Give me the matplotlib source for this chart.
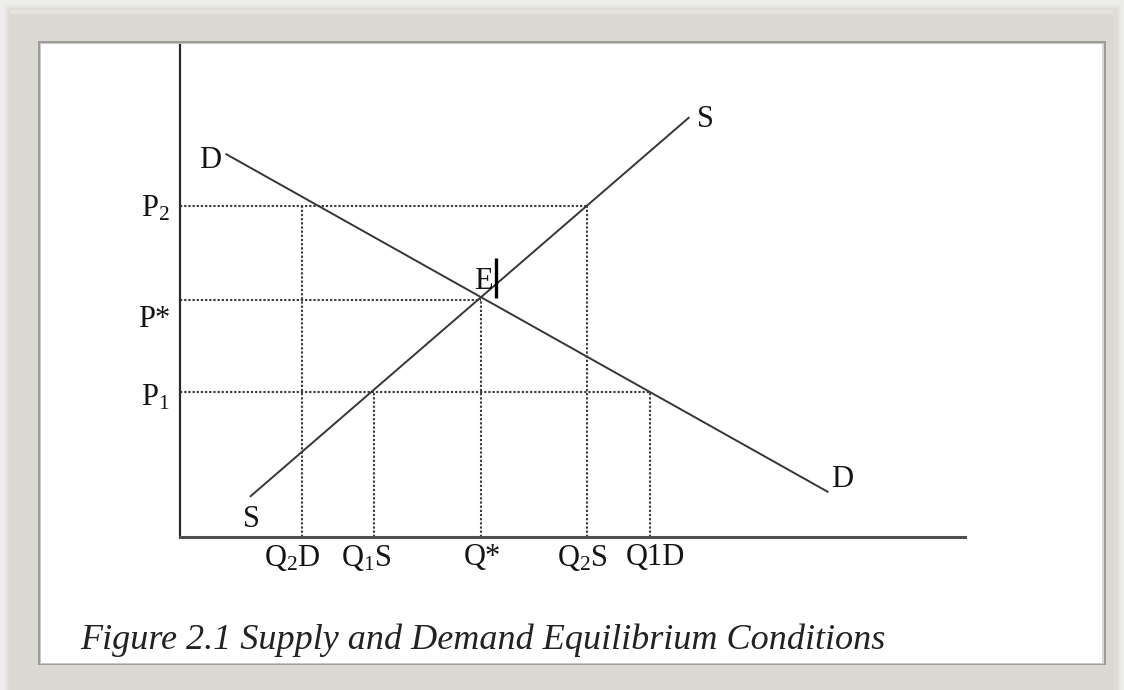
"""
Supply and demand equilibrium diagram (Figure 2.1)
"""

import matplotlib
matplotlib.use('Agg')
import matplotlib.pyplot as plt
from matplotlib.patches import Rectangle
from matplotlib.transforms import Affine2D

plt.rcParams.update({
    'font.family': ['Liberation Serif', 'DejaVu Serif'],
    'mathtext.fontset': 'custom',
    'mathtext.rm': 'Liberation Serif',
    'mathtext.it': 'Liberation Serif:italic',
    'mathtext.default': 'rm',
})

# price levels on the vertical axis
p_labels = ['P$_2$', 'P*', 'P$_1$']
p_values = [67.3, 48.2, 29.5]

# quantities on the horizontal axis
q_labels = ['Q$_2$D', 'Q$_1$S', 'Q*', 'Q$_2$S', 'Q1D']
q_values = [15.5, 24.7, 38.3, 51.8, 59.9]
q_to_price = [0, 2, 1, 0, 2]      # which price level each quantity belongs to
p_to_quantity = [3, 2, 4]         # furthest quantity reached at each price level

# demand and supply lines (end points)
demand_q = [5.9, 82.5]
demand_p = [77.8, 9.2]
supply_q = [9.0, 64.8]
supply_p = [8.3, 85.2]

equilibrium_q = q_values[2]
equilibrium_p = p_values[1]

LINE = '#363636'
DOT = '#404040'
TEXT = '#141414'

W, H = 1124, 690
fig = plt.figure(figsize=(W / 100, H / 100), dpi=100)

# ── frame ────────────────────────────────────────────
bg = fig.add_axes([0, 0, 1, 1])
bg.set_xlim(0, W)
bg.set_ylim(H, 0)
bg.axis('off')
bg.add_patch(Rectangle((0, 0), W, H, facecolor='#eeeeed', edgecolor='none'))
for i, c in enumerate(['#eaeae8', '#e4e3e0', '#dedcd6']):
    bg.add_patch(Rectangle((4 + 2 * i, 4 + 2 * i), W - 6 - 4 * i, H, facecolor=c, edgecolor='none'))
bg.add_patch(Rectangle((10, 10), 1103, 690, facecolor='#dad8d0', edgecolor='none'))
bg.add_patch(Rectangle((10, 10), 1103, 4, facecolor='#e4e2da', edgecolor='none'))
bg.add_patch(Rectangle((38, 41), 1068, 624, facecolor='#9c9c9a', edgecolor='none'))
bg.add_patch(Rectangle((40, 43), 1064, 621, facecolor='#c8c8c6', edgecolor='none'))
bg.add_patch(Rectangle((41, 44), 1062, 619, facecolor='white', edgecolor='none'))
bg.add_patch(Rectangle((1102, 44), 2, 619, facecolor='#d8d8d8', edgecolor='none'))

# ── diagram ──────────────────────────────────────────
ax = fig.add_axes([180 / W, 1 - 537 / H, 785 / W, 492 / H])
ax.set_xlim(0, 100)
ax.set_ylim(0, 100)
ax.patch.set_alpha(0)
for side in ['top', 'right']:
    ax.spines[side].set_visible(False)
ax.spines['left'].set_linewidth(1.6)
ax.spines['left'].set_color('#2a2a2a')
ax.spines['bottom'].set_linewidth(2.2)
ax.spines['bottom'].set_color('#505050')
ax.set_xticks([])
ax.set_yticks([])

dotted = dict(color=DOT, linewidth=1.5, linestyle=(0, (1.1, 0.9)), zorder=1)
for p, j in zip(p_values, p_to_quantity):
    ax.plot([0, q_values[j]], [p, p], **dotted)
for q, j in zip(q_values, q_to_price):
    ax.plot([q, q], [0, p_values[j]], **dotted)

ax.plot(demand_q, demand_p, color=LINE, linewidth=1.4, zorder=2)
ax.plot(supply_q, supply_p, color=LINE, linewidth=1.4, zorder=2)

fs = 22
lab = dict(fontsize=fs, color=TEXT, textcoords='offset pixels', ha='center', va='center')
ax.annotate('D', (demand_q[0], demand_p[0]), xytext=(-16, -6), **lab)
ax.annotate('D', (demand_q[1], demand_p[1]), xytext=(15, 12), **lab)
ax.annotate('S', (supply_q[1], supply_p[1]), xytext=(17, -2), **lab)
ax.annotate('S', (supply_q[0], supply_p[0]), xytext=(1, -23), **lab)

# equilibrium point with the marker bar beside the label
ax.annotate('E', (equilibrium_q, equilibrium_p), xytext=(3, 18), **lab)
ex, ey = ax.transData.transform((equilibrium_q, equilibrium_p))
bar_tr = Affine2D().translate(ex, ey)
ax.plot([15, 15], [2, 42], color='black', linewidth=2.4, transform=bar_tr,
        solid_capstyle='butt', clip_on=False)

# price labels left of the axis
p_offsets = [-3, -20, -6]
for lbl, p, dy in zip(p_labels, p_values, p_offsets):
    ax.annotate(lbl, (0, p), xytext=(-10, dy), textcoords='offset pixels',
                fontsize=fs, color=TEXT, ha='right', va='center', annotation_clip=False)

# quantity labels under the axis
q_offsets = [-9, -8, 2, -4, 5]
for lbl, q, dx in zip(q_labels, q_values, q_offsets):
    ax.annotate(lbl, (q, 0), xytext=(dx, -21), textcoords='offset pixels',
                fontsize=fs, color=TEXT, ha='center', va='center', annotation_clip=False)

fig.text(80 / W, 1 - 649 / H, 'Figure 2.1 Supply and Demand Equilibrium Conditions',
         fontsize=26, style='italic', color='#222222', ha='left', va='baseline')

fig.savefig('out.png', dpi=100)
plt.close(fig)
